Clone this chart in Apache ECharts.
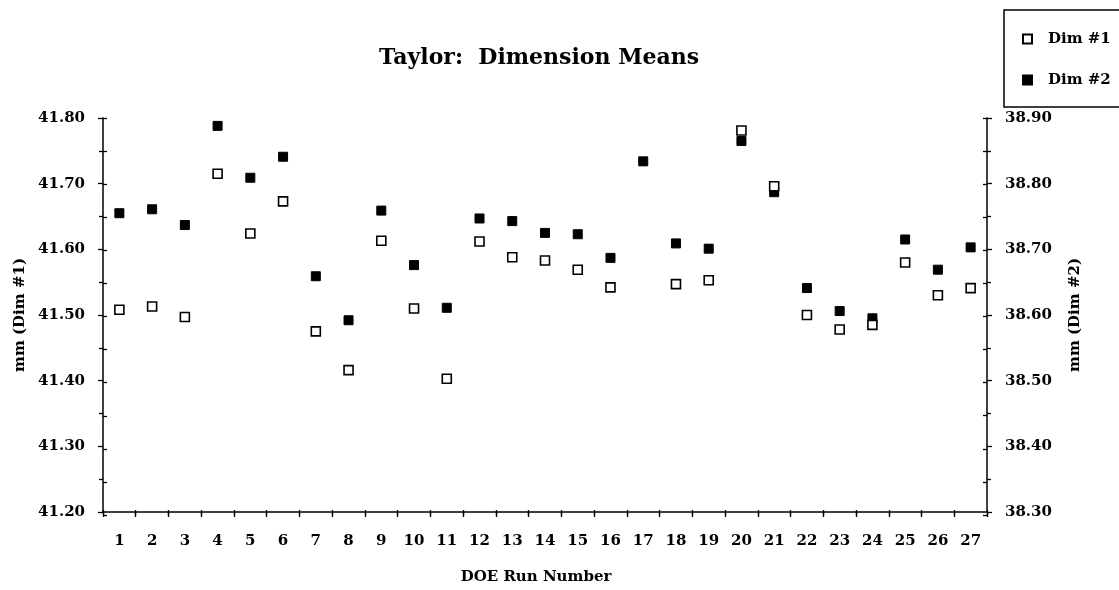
<!DOCTYPE html>
<html>
<head>
<meta charset="utf-8">
<script src="https://cdn.jsdelivr.net/npm/echarts@6/dist/echarts.min.js"></script>
<style>
html,body{margin:0;padding:0;background:#fff;}
#chart{width:1119px;height:590px;}
</style>
</head>
<body>
<div id="chart"></div>
<script>
const runs = ['1','2','3','4','5','6','7','8','9','10','11','12','13','14','15','16','17','18','19','20','21','22','23','24','25','26','27'];
const dim1 = [41.508,41.513,41.497,41.715,41.624,41.673,41.475,41.416,41.613,41.510,41.403,41.612,41.588,41.583,41.569,41.542,null,41.547,41.553,41.781,41.696,41.500,41.478,41.485,41.580,41.530,41.541];
const dim2 = [38.755,38.761,38.737,38.888,38.809,38.841,38.659,38.592,38.759,38.676,38.611,38.747,38.743,38.725,38.723,38.687,38.834,38.709,38.701,38.865,38.787,38.641,38.606,38.595,38.715,38.669,38.703];
const leftTicks = {min:41.2, max:41.8, step:0.1};
const rightTicks = {min:38.3, max:38.9, step:0.1};

const FONT = 'DejaVu Serif';
const chart = echarts.init(document.getElementById('chart'), null, {renderer:'canvas'});
const lineStyle = {color:'#000', width:1.5};
const tickOut = {show:true, length:5, lineStyle:{color:'#000', width:1.3}};
const tickIn = {show:true, inside:true, length:4, lineStyle:{color:'#000', width:1.3}};
const minorOut = {show:true, splitNumber:2, length:4, lineStyle:{color:'#000', width:1.3}};
const minorIn = {show:true, splitNumber:2, length:4, lineStyle:{color:'#000', width:1.3}};
const fmt = v => v.toFixed(2);
const gridBox = {left:103, right:132, top:118, bottom:75, containLabel:false};

chart.setOption({
  animation:false,
  backgroundColor:'#fff',
  title:{
    text:'Taylor:  Dimension Means',
    left:379, top:47, padding:0,
    textStyle:{fontFamily:FONT, fontWeight:'bold', fontSize:22, color:'#000'}
  },
  legend:{
    orient:'vertical', left:1022, top:30, padding:0,
    itemWidth:9, itemHeight:9, itemGap:23, icon:'rect',
    textStyle:{fontFamily:FONT, fontWeight:'bold', fontSize:15, color:'#000', lineHeight:18, padding:[0,0,0,11]},
    data:['Dim #1','Dim #2']
  },
  graphic:[{
    type:'rect', shape:{x:1004, y:10, width:130, height:97},
    style:{fill:'none', stroke:'#000', lineWidth:1.5}, silent:true
  }],
  grid:[Object.assign({}, gridBox), Object.assign({}, gridBox)],
  xAxis:[{
    gridIndex:0, type:'category', data:runs, boundaryGap:true,
    axisLine:{show:true, lineStyle:lineStyle},
    axisTick:tickOut,
    axisLabel:{fontFamily:FONT, fontWeight:'bold', fontSize:15, color:'#000', margin:22},
    splitLine:{show:false},
    name:'DOE Run Number', nameLocation:'middle', nameGap:58,
    nameTextStyle:{fontFamily:FONT, fontWeight:'bold', fontSize:15, color:'#000', padding:[0,18,0,0]}
  },{
    gridIndex:1, type:'category', data:runs, boundaryGap:true, position:'bottom',
    axisLine:{show:false}, axisTick:{show:true, inside:true, length:5, lineStyle:{color:'#000', width:1.3}},
    axisLabel:{show:false}, splitLine:{show:false}
  }],
  yAxis:[{
    gridIndex:0, type:'value', position:'left', min:leftTicks.min, max:leftTicks.max, interval:leftTicks.step,
    axisLine:{show:true, lineStyle:lineStyle},
    axisTick:tickOut, minorTick:minorOut, splitLine:{show:false}, minorSplitLine:{show:false},
    axisLabel:{formatter:fmt, fontFamily:FONT, fontWeight:'bold', fontSize:15, color:'#000', margin:18},
    name:'mm (Dim #1)', nameLocation:'middle', nameRotate:90, nameGap:75,
    nameTextStyle:{fontFamily:FONT, fontWeight:'bold', fontSize:15, color:'#000'}
  },{
    gridIndex:0, type:'value', position:'right', min:rightTicks.min, max:rightTicks.max, interval:rightTicks.step,
    axisLine:{show:true, lineStyle:lineStyle},
    axisTick:tickOut, minorTick:minorOut, splitLine:{show:false}, minorSplitLine:{show:false},
    axisLabel:{formatter:fmt, fontFamily:FONT, fontWeight:'bold', fontSize:15, color:'#000', margin:18},
    name:'mm (Dim #2)', nameLocation:'middle', nameRotate:90, nameGap:81,
    nameTextStyle:{fontFamily:FONT, fontWeight:'bold', fontSize:15, color:'#000'}
  },{
    gridIndex:1, type:'value', position:'left', min:leftTicks.min, max:leftTicks.max, interval:leftTicks.step,
    axisLine:{show:false}, axisTick:tickIn, minorTick:minorIn, axisLabel:{show:false},
    splitLine:{show:false}, minorSplitLine:{show:false}
  },{
    gridIndex:1, type:'value', position:'right', min:rightTicks.min, max:rightTicks.max, interval:rightTicks.step,
    axisLine:{show:false}, axisTick:tickIn, minorTick:minorIn, axisLabel:{show:false},
    splitLine:{show:false}, minorSplitLine:{show:false}
  }],
  series:[{
    name:'Dim #1', type:'scatter', xAxisIndex:0, yAxisIndex:0, data:dim1,
    symbol:'rect', symbolSize:[9,9],
    itemStyle:{color:'#fff', borderColor:'#000', borderWidth:1.6, opacity:1},
    z:3
  },{
    name:'Dim #2', type:'scatter', xAxisIndex:0, yAxisIndex:1, data:dim2,
    symbol:'rect', symbolSize:[9,9],
    itemStyle:{color:'#000', borderColor:'#000', borderWidth:1, opacity:1},
    z:2
  }]
});
</script>
</body>
</html>
